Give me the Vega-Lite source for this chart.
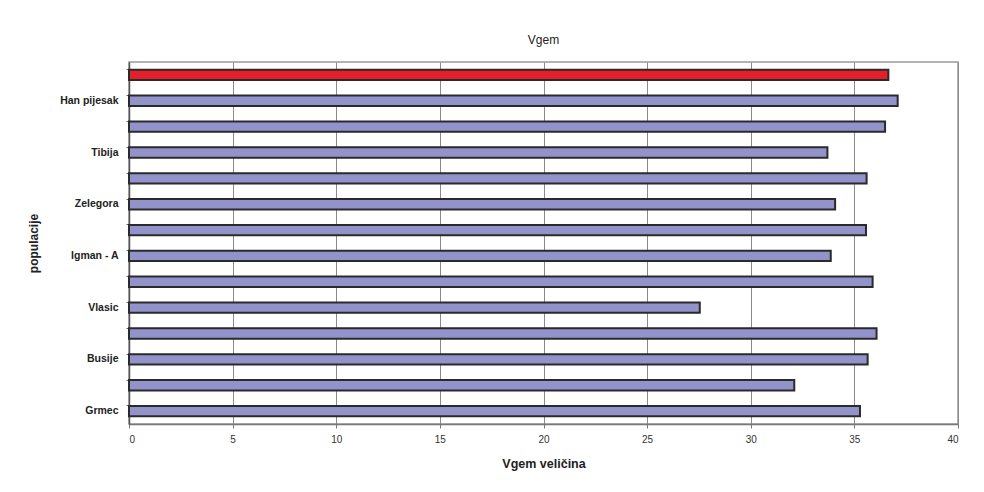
{
  "$schema": "https://vega.github.io/schema/vega-lite/v6.json",
  "width": 829,
  "height": 362,
  "autosize": {"type": "none"},
  "padding": {"left": 129, "top": 62, "right": 26, "bottom": 68},
  "background": "white",
  "title": {"text": "Vgem", "font": "Liberation Sans", "fontSize": 12, "fontWeight": "normal", "color": "#222", "offset": 15},
  "data": {"values": [
    {"populacija": "Grmec", "vgem": 35.27, "grupa": "pop"},
    {"populacija": "pop 2", "vgem": 32.10, "grupa": "pop"},
    {"populacija": "Busije", "vgem": 35.64, "grupa": "pop"},
    {"populacija": "pop 4", "vgem": 36.07, "grupa": "pop"},
    {"populacija": "Vlasic", "vgem": 27.54, "grupa": "pop"},
    {"populacija": "pop 6", "vgem": 35.88, "grupa": "pop"},
    {"populacija": "Igman - A", "vgem": 33.86, "grupa": "pop"},
    {"populacija": "pop 8", "vgem": 35.56, "grupa": "pop"},
    {"populacija": "Zelegora", "vgem": 34.07, "grupa": "pop"},
    {"populacija": "pop 10", "vgem": 35.59, "grupa": "pop"},
    {"populacija": "Tibija", "vgem": 33.70, "grupa": "pop"},
    {"populacija": "pop 12", "vgem": 36.48, "grupa": "pop"},
    {"populacija": "Han pijesak", "vgem": 37.09, "grupa": "pop"},
    {"populacija": "prosjek", "vgem": 36.64, "grupa": "prosjek"}
  ]},
  "mark": {"type": "bar", "stroke": "#2a2a2a", "strokeWidth": 2},
  "encoding": {
    "y": {
      "field": "populacija", "type": "nominal", "sort": null,
      "scale": {"reverse": true, "paddingInner": 0.6, "paddingOuter": 0.3},
      "axis": {
        "title": "populacije",
        "titleFont": "Liberation Sans", "titleFontSize": 12, "titleFontWeight": "bold", "titleColor": "#222",
        "titlePadding": 19,
        "labelFont": "Liberation Sans", "labelFontSize": 10.5, "labelFontWeight": "bold", "labelColor": "#222",
        "labelExpr": "indexof(['Grmec','Busije','Vlasic','Igman - A','Zelegora','Tibija','Han pijesak'], datum.value) >= 0 ? datum.value : ''",
        "labelPadding": 8,
        "bandPosition": 0,
        "tickSize": 3, "tickColor": "#666",
        "domainColor": "#555", "domainWidth": 1.5,
        "grid": false
      }
    },
    "x": {
      "field": "vgem", "type": "quantitative",
      "scale": {"domain": [0, 40], "nice": false},
      "axis": {
        "title": "Vgem veličina",
        "values": [0, 5, 10, 15, 20, 25, 30, 35, 40],
        "titleFont": "Liberation Sans", "titleFontSize": 12.5, "titleFontWeight": "bold", "titleColor": "#222",
        "titlePadding": 13,
        "labelFont": "Liberation Sans", "labelFontSize": 10, "labelColor": "#333",
        "labelPadding": 6,
        "tickSize": 4, "tickColor": "#777",
        "domainColor": "#777", "domainWidth": 1.5,
        "grid": true, "gridColor": "#8a8a8a", "gridWidth": 1
      }
    },
    "color": {
      "field": "grupa", "type": "nominal",
      "scale": {"domain": ["pop", "prosjek"], "range": ["#9393cc", "#e3202a"]},
      "legend": null
    }
  },
  "config": {
    "view": {"stroke": "#9a9a9a", "strokeWidth": 1.5}
  }
}
